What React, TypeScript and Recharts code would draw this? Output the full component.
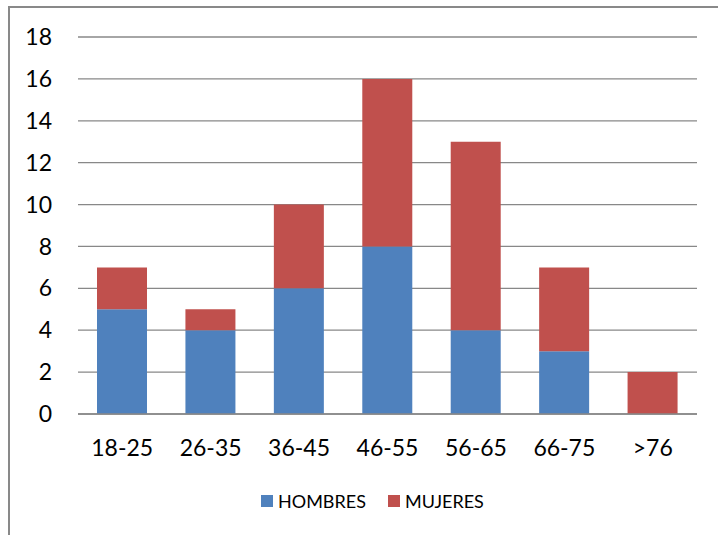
import React from 'react';
import { BarChart, Bar, XAxis, YAxis, CartesianGrid } from 'recharts';

const ageGroups = ['18-25', '26-35', '36-45', '46-55', '56-65', '66-75', '>76'];
const hombres = [5, 4, 6, 8, 4, 3, 0];
const mujeres = [2, 1, 4, 8, 9, 4, 2];
const yTicks = [0, 2, 4, 6, 8, 10, 12, 14, 16, 18];

const data = ageGroups.map((group, i) => ({
  group,
  HOMBRES: hombres[i],
  MUJERES: mujeres[i],
}));

const series = [
  { key: 'HOMBRES', color: '#4F81BD' },
  { key: 'MUJERES', color: '#C0504D' },
];

const font = 'Lato, "Open Sans", sans-serif';
const gridColor = '#888888';

const App: React.FC = () => {
  return (
    <div
      style={{
        position: 'absolute',
        left: 0,
        top: 0,
        width: 718,
        height: 535,
        overflow: 'hidden',
        background: '#fff',
        fontFamily: font,
      }}
    >
      {/* chart frame, cut off on the right and bottom */}
      <div
        style={{
          position: 'absolute',
          left: 8,
          top: 6,
          width: 800,
          height: 800,
          borderLeft: '2px solid #898989',
          borderTop: '2px solid #898989',
        }}
      />
      <div style={{ position: 'absolute', left: 0, top: 0 }}>
        <BarChart
          width={718}
          height={535}
          data={data}
          margin={{ top: 37, right: 21, bottom: 0, left: 0 }}
        >
          <CartesianGrid vertical={false} stroke={gridColor} strokeWidth={1.3} />
          <XAxis
            dataKey="group"
            height={121}
            axisLine={{ stroke: gridColor, strokeWidth: 1.3 }}
            tickLine={false}
            tickSize={0}
            tickMargin={26}
            tick={{ fill: '#000', fontSize: 23, fontFamily: font }}
            interval={0}
          />
          <YAxis
            width={78}
            domain={[0, 18]}
            ticks={yTicks}
            axisLine={false}
            tickLine={false}
            tickSize={0}
            tickMargin={26}
            tick={{ fill: '#000', fontSize: 23, fontFamily: font }}
          />
          {series.map((s) => (
            <Bar key={s.key} dataKey={s.key} stackId="a" fill={s.color} barSize={50} isAnimationActive={false} />
          ))}
        </BarChart>
      </div>
      {/* legend row under the plot */}
      <div
        style={{
          position: 'absolute',
          left: 261,
          top: 490,
          display: 'flex',
          alignItems: 'center',
          fontSize: 18,
          color: '#000',
          lineHeight: '22px',
        }}
      >
        {series.map((s, i) => (
          <div key={s.key} style={{ display: 'flex', alignItems: 'center', marginLeft: i === 0 ? 0 : 22 }}>
            <span style={{ width: 12, height: 12, background: s.color, display: 'inline-block', marginRight: 5 }} />
            <span>{s.key}</span>
          </div>
        ))}
      </div>
    </div>
  );
};

export default App;
